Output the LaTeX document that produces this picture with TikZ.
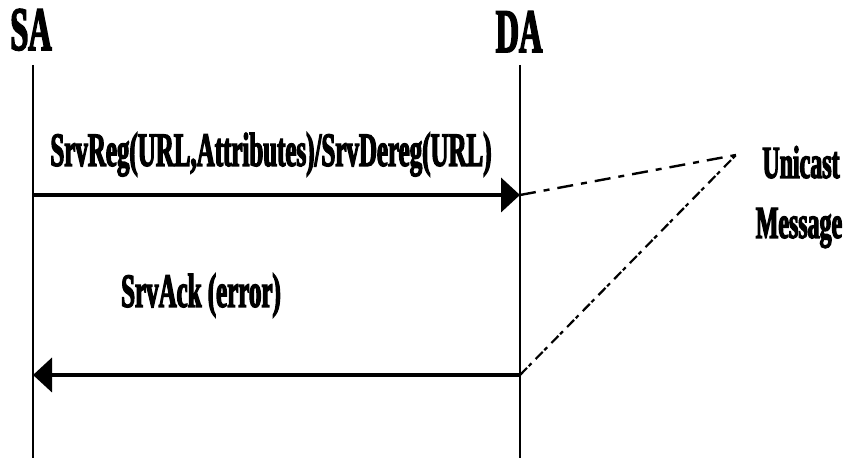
\documentclass[tikz,border=0pt]{standalone}
\usepackage{fontspec}
\usepackage{tikz}
\usetikzlibrary{arrows.meta,positioning}
\newfontfamily\condserif[FakeStretch=0.52,BoldFeatures={FakeBold=2.5}]{Liberation Serif}
\definecolor{seqblack}{RGB}{0,0,0}

\begin{document}
\begin{tikzpicture}[x=0.5pt,y=-0.5pt,
    party/.style={font=\condserif\bfseries\fontsize{31}{33}\selectfont, inner sep=0pt, anchor=base},
    msglabel/.style={font=\condserif\bfseries\fontsize{24}{26}\selectfont, inner sep=0pt, anchor=base},
    notelabel/.style={font=\condserif\bfseries\fontsize{23}{25}\selectfont, inner sep=0pt, anchor=base},
    lifeline/.style={seqblack, line width=1pt},
    msgarrow/.style={seqblack, line width=2pt, -{Triangle[length=9.5pt,width=17pt]}}]
    \useasboundingbox (0,0) rectangle (848,458);

    % parties and lifelines
    \node[party] (sa) at (31,50) {SA};
    \node[party] (da) at (519,52) {DA};
    \coordinate (saTop) at (33,65);
    \coordinate (saBot) at (33,458);
    \coordinate (daTop) at (520,65);
    \coordinate (daBot) at (520,458);
    \draw[lifeline] (saTop) -- (saBot);
    \draw[lifeline] (daTop) -- (daBot);

    % request and acknowledgement
    \coordinate (reqFrom) at (33,195);
    \coordinate (reqTo) at (520,195);
    \coordinate (ackFrom) at (520,375);
    \coordinate (ackTo) at (33,375);
    \draw[msgarrow] (reqFrom) -- (reqTo);
    \draw[msgarrow] (ackFrom) -- (ackTo);
    \node[msglabel] (reqlbl) at (271,166) {SrvReg(URL,Attributes)/SrvDereg(URL)};
    \node[msglabel] (acklbl) at (201,307) {SrvAck (error)};

    % note
    \node[notelabel] (uni) at (801,178) {Unicast};
    \node[notelabel] (msg) at (799,238) {Message};
    \coordinate (noteTip) at (736,155);
    \draw[seqblack, line width=1.2pt, dash pattern=on 8pt off 4pt on 3pt off 4pt] (reqTo) -- (noteTip);
    \draw[seqblack, line width=1.1pt, dash pattern=on 5pt off 1.2pt on 2pt off 3pt] (ackFrom) -- (noteTip);
\end{tikzpicture}
\end{document}
